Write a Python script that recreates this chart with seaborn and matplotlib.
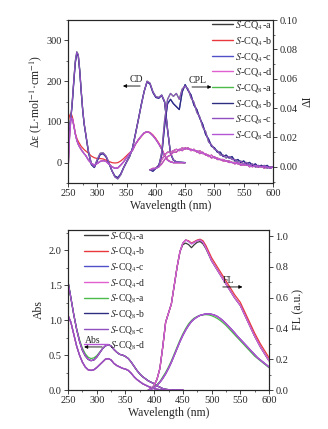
import numpy as np
import pandas as pd
import seaborn as sns
import matplotlib
matplotlib.use("Agg")
import matplotlib.pyplot as plt
from matplotlib.lines import Line2D
from matplotlib.ticker import AutoMinorLocator, FormatStrFormatter

# ---------------- data ----------------
series = ["S-CQ4-a", "S-CQ4-b", "S-CQ4-c", "S-CQ4-d", "S-CQ8-a", "S-CQ8-b", "S-CQ8-c", "S-CQ8-d"]
labels = [r"$\mathit{S}$-CQ$_{4}$-a", r"$\mathit{S}$-CQ$_{4}$-b", r"$\mathit{S}$-CQ$_{4}$-c",
          r"$\mathit{S}$-CQ$_{4}$-d", r"$\mathit{S}$-CQ$_{8}$-a", r"$\mathit{S}$-CQ$_{8}$-b",
          r"$\mathit{S}$-CQ$_{8}$-c", r"$\mathit{S}$-CQ$_{8}$-d"]
colors = ["#3a3a3a", "#e8383d", "#5050c8", "#e060d0", "#4cbb4c", "#2e2e80", "#9050c0", "#b455d4"]

# CD (left axis, top panel)
wl_cd = [250, 252.5, 255, 257.5, 260, 262.5, 265, 267.5, 270, 272.5, 275, 277.5, 280, 282.5, 285,
         290, 295, 300, 305, 310, 315, 320, 325, 330, 335, 340, 345, 350, 355, 360, 365, 370, 375,
         380, 385, 390, 395, 400, 405, 410, 415, 420, 425, 430, 435, 440, 450]
cd_big1 = [70, 85, 110, 150, 200, 245, 268, 262, 225, 175, 130, 95, 72, 48, 25,
           -5, -12, 5, 20, 22, 14, -2, -20, -33, -37, -28, -12, 2, 15, 35, 70, 105, 142,
           175, 198, 193, 172, 160, 158, 165, 148, 80, 22, 6, 2, 1, 0]
cd_big2 = [75, 88, 112, 155, 205, 250, 272, 265, 228, 178, 132, 97, 74, 50, 27,
           -3, -10, 8, 23, 24, 16, 0, -20, -35, -40, -30, -13, 1, 14, 34, 68, 104, 140,
           174, 200, 195, 174, 162, 160, 166, 150, 82, 24, 7, 2, 1, 0]
cd_small1 = [95, 115, 122, 112, 92, 72, 60, 52, 46, 40, 36, 32, 29, 26, 23,
             16, 12, 10, 10, 9, 6, 3, 0, -1, 0, 4, 10, 17, 24, 30, 45, 55, 64,
             72, 76, 74, 68, 59, 48, 35, 18, 7, 2, 0, 0, 0, 0]
cd_small2 = [-25, 60, 110, 108, 90, 70, 55, 45, 38, 32, 27, 22, 18, 12, 6,
             -2, -6, -2, 3, 5, 3, -4, -10, -14, -13, -6, 2, 12, 22, 30, 45, 56, 65,
             73, 76, 73, 66, 57, 46, 33, 17, 6, 2, 0, 0, 0, 0]

# CPL (right axis, top panel)
wl_cpl = [390, 395, 400, 405, 410, 415, 420, 425, 430, 435, 440, 445, 450, 455, 460, 465, 470,
          475, 480, 485, 490, 495, 500, 505, 510, 515, 520, 525, 530, 535, 540, 545, 550, 555,
          560, 565, 570, 575, 580, 585, 590, 595, 600]
cpl_big1 = [-0.002, -0.003, -0.001, 0.001, 0.008, 0.028, 0.043, 0.046, 0.043, 0.041, 0.039, 0.051,
            0.056, 0.052, 0.049, 0.042, 0.039, 0.033, 0.029, 0.022, 0.019, 0.014, 0.013, 0.010,
            0.010, 0.007, 0.008, 0.006, 0.007, 0.004, 0.005, 0.003, 0.004, 0.002, 0.003, 0.001,
            0.002, 0.000, 0.001, 0.000, 0.001, -0.001, 0.000]
cpl_big2 = [-0.002, -0.002, -0.001, 0.000, 0.010, 0.032, 0.046, 0.050, 0.048, 0.050, 0.046, 0.053,
            0.055, 0.053, 0.047, 0.044, 0.037, 0.034, 0.027, 0.024, 0.017, 0.015, 0.012, 0.011,
            0.008, 0.008, 0.006, 0.007, 0.005, 0.005, 0.003, 0.004, 0.002, 0.003, 0.001, 0.002,
            0.000, 0.001, 0.000, 0.001, -0.001, 0.000, 0.000]
cpl_small1 = [-0.002, -0.002, -0.001, 0.001, 0.005, 0.008, 0.010, 0.010, 0.011, 0.012, 0.011,
              0.013, 0.012, 0.013, 0.011, 0.012, 0.010, 0.011, 0.009, 0.009, 0.007, 0.008, 0.006,
              0.006, 0.005, 0.005, 0.004, 0.004, 0.003, 0.003, 0.002, 0.002, 0.001, 0.002, 0.000,
              0.001, 0.000, 0.000, 0.001, -0.001, 0.000, 0.000, 0.000]
cpl_small2 = [-0.002, -0.001, -0.001, 0.000, 0.002, 0.005, 0.007, 0.008, 0.010, 0.010, 0.012,
              0.011, 0.013, 0.012, 0.012, 0.011, 0.011, 0.009, 0.010, 0.008, 0.008, 0.006, 0.007,
              0.005, 0.005, 0.004, 0.004, 0.003, 0.003, 0.002, 0.003, 0.001, 0.002, 0.001, 0.001,
              0.000, 0.001, 0.000, 0.000, 0.000, 0.000, -0.001, 0.000]

# Abs (left axis, bottom panel)
wl_abs = [250, 255, 260, 265, 270, 275, 280, 285, 290, 295, 300, 305, 310, 315, 320, 325, 330,
          335, 340, 345, 350, 355, 360, 365, 370, 375, 380, 385, 390, 395, 400, 405, 410, 415,
          420, 425, 430, 435, 440, 445, 450]
abs_big = [1.55, 1.32, 1.08, 0.87, 0.70, 0.57, 0.49, 0.44, 0.42, 0.43, 0.47, 0.53, 0.59, 0.63,
           0.65, 0.63, 0.58, 0.54, 0.51, 0.50, 0.48, 0.45, 0.40, 0.34, 0.28, 0.23, 0.19, 0.16,
           0.13, 0.11, 0.09, 0.06, 0.04, 0.02, 0.01, 0.005, 0, 0, 0, 0, 0]
abs_big_g = [1.55, 1.32, 1.08, 0.88, 0.72, 0.60, 0.52, 0.47, 0.45, 0.46, 0.49, 0.54, 0.59, 0.63,
             0.65, 0.63, 0.58, 0.54, 0.51, 0.50, 0.48, 0.45, 0.40, 0.34, 0.28, 0.23, 0.19, 0.16,
             0.13, 0.11, 0.09, 0.06, 0.04, 0.02, 0.01, 0.005, 0, 0, 0, 0, 0]
abs_small = [1.07, 0.97, 0.80, 0.63, 0.50, 0.40, 0.33, 0.29, 0.28, 0.29, 0.32, 0.36, 0.40, 0.44,
             0.45, 0.43, 0.38, 0.35, 0.33, 0.31, 0.30, 0.28, 0.24, 0.19, 0.15, 0.12, 0.09, 0.07,
             0.05, 0.035, 0.02, 0.01, 0.005, 0, 0, 0, 0, 0, 0, 0, 0]

# FL (right axis, bottom panel)
wl_fl = wl_cpl
fl_big = [0.0, 0.01, 0.03, 0.07, 0.14, 0.28, 0.44, 0.50, 0.56, 0.68, 0.80, 0.90, 0.955, 0.975,
          0.965, 0.95, 0.96, 0.97, 0.975, 0.96, 0.925, 0.885, 0.84, 0.81, 0.78, 0.75, 0.72, 0.69,
          0.66, 0.63, 0.60, 0.575, 0.55, 0.51, 0.47, 0.43, 0.39, 0.35, 0.315, 0.28, 0.25, 0.22, 0.19]
fl_big_k = [0.0, 0.01, 0.03, 0.07, 0.14, 0.28, 0.44, 0.50, 0.56, 0.68, 0.80, 0.90, 0.945, 0.955,
            0.945, 0.925, 0.945, 0.96, 0.965, 0.95, 0.92, 0.88, 0.84, 0.81, 0.78, 0.75, 0.72, 0.69,
            0.66, 0.63, 0.60, 0.575, 0.55, 0.51, 0.47, 0.43, 0.39, 0.35, 0.315, 0.28, 0.25, 0.22, 0.19]
fl_big_r = [0.0, 0.01, 0.03, 0.07, 0.14, 0.28, 0.44, 0.50, 0.56, 0.68, 0.80, 0.90, 0.955, 0.975,
            0.97, 0.955, 0.965, 0.975, 0.98, 0.97, 0.94, 0.90, 0.86, 0.83, 0.80, 0.77, 0.74, 0.71,
            0.68, 0.65, 0.62, 0.595, 0.57, 0.53, 0.49, 0.45, 0.41, 0.37, 0.335, 0.30, 0.27, 0.24, 0.21]
fl_small = [0.0, 0.005, 0.015, 0.03, 0.05, 0.075, 0.105, 0.14, 0.18, 0.225, 0.27, 0.315, 0.355,
            0.39, 0.42, 0.445, 0.462, 0.475, 0.485, 0.49, 0.495, 0.495, 0.492, 0.487, 0.478,
            0.465, 0.45, 0.432, 0.413, 0.393, 0.372, 0.35, 0.33, 0.31, 0.29, 0.27, 0.25, 0.23,
            0.21, 0.195, 0.18, 0.165, 0.15]
fl_small_g = [0.0, 0.005, 0.02, 0.035, 0.055, 0.085, 0.115, 0.15, 0.19, 0.235, 0.28, 0.325, 0.365,
              0.40, 0.43, 0.452, 0.468, 0.478, 0.485, 0.488, 0.49, 0.488, 0.483, 0.475, 0.465,
              0.452, 0.437, 0.42, 0.40, 0.38, 0.36, 0.34, 0.32, 0.30, 0.28, 0.26, 0.24, 0.22,
              0.205, 0.19, 0.175, 0.16, 0.145]

cd_map = {"S-CQ4-a": cd_small2, "S-CQ4-b": cd_small1, "S-CQ4-c": cd_big1, "S-CQ4-d": cd_small2,
          "S-CQ8-a": cd_big2, "S-CQ8-b": cd_big1, "S-CQ8-c": cd_big2, "S-CQ8-d": cd_small2}
cpl_map = {"S-CQ4-a": cpl_small1, "S-CQ4-b": cpl_small2, "S-CQ4-c": cpl_big1, "S-CQ4-d": cpl_small1,
           "S-CQ8-a": cpl_big2, "S-CQ8-b": cpl_big1, "S-CQ8-c": cpl_big2, "S-CQ8-d": cpl_small2}
abs_map = {"S-CQ4-a": abs_big, "S-CQ4-b": abs_small, "S-CQ4-c": abs_small, "S-CQ4-d": abs_small,
           "S-CQ8-a": abs_big_g, "S-CQ8-b": abs_big, "S-CQ8-c": abs_small, "S-CQ8-d": abs_big}
fl_map = {"S-CQ4-a": fl_big_k, "S-CQ4-b": fl_big_r, "S-CQ4-c": fl_big, "S-CQ4-d": fl_big,
          "S-CQ8-a": fl_small_g, "S-CQ8-b": fl_small, "S-CQ8-c": fl_small, "S-CQ8-d": fl_small}

# ---------------- style ----------------
sns.set_style("ticks")
plt.rcParams["font.family"] = ["Liberation Serif", "DejaVu Serif"]
plt.rcParams["mathtext.fontset"] = "stix"
plt.rcParams["axes.linewidth"] = 0.8
plt.rcParams["xtick.direction"] = "out"
plt.rcParams["ytick.direction"] = "out"

fig = plt.figure(figsize=(3.28, 4.29), dpi=100)
fig.patch.set_facecolor("white")

ax1 = fig.add_axes([68/328, 1-183/429, 205/328, 163/429])
ax1r = ax1.twinx()
ax2 = fig.add_axes([68/328, 1-390/429, 201/328, 160/429])
ax2r = ax2.twinx()

lw = 0.9
for name, col in zip(series, colors):
    sns.lineplot(x=wl_cd, y=cd_map[name], ax=ax1, color=col, lw=lw, sort=False)
    sns.lineplot(x=wl_cpl, y=cpl_map[name], ax=ax1r, color=col, lw=lw, sort=False)
    sns.lineplot(x=wl_abs, y=abs_map[name], ax=ax2, color=col, lw=lw, sort=False)
    sns.lineplot(x=wl_fl, y=fl_map[name], ax=ax2r, color=col, lw=lw, sort=False)

tick_fs = 7.5
lab_fs = 8.5

# top panel axes
ax1.set_xlim(250, 600)
ax1.set_ylim(-50, 350)
ax1r.set_ylim(-0.011, 0.10)
ax1.set_xticks([250, 300, 350, 400, 450, 500, 550, 600])
ax1.set_yticks([0, 100, 200, 300])
ax1r.set_yticks([0.00, 0.02, 0.04, 0.06, 0.08, 0.10])
ax1r.yaxis.set_major_formatter(FormatStrFormatter("%.2f"))
ax1.set_xlabel("Wavelength (nm)", fontsize=lab_fs, labelpad=1)
ax1.set_ylabel(r"Δε (L·mol$^{-1}$·cm$^{-1}$)", fontsize=lab_fs, labelpad=2)
ax1r.set_ylabel("ΔI", fontsize=lab_fs, labelpad=3)

# bottom panel axes
ax2.set_xlim(250, 600)
ax2.set_ylim(0, 2.29)
ax2r.set_ylim(0, 1.04)
ax2.set_xticks([250, 300, 350, 400, 450, 500, 550, 600])
ax2.set_yticks([0.0, 0.5, 1.0, 1.5, 2.0])
ax2.yaxis.set_major_formatter(FormatStrFormatter("%.1f"))
ax2r.set_yticks([0.0, 0.2, 0.4, 0.6, 0.8, 1.0])
ax2r.yaxis.set_major_formatter(FormatStrFormatter("%.1f"))
ax2.set_xlabel("Wavelength (nm)", fontsize=lab_fs, labelpad=1)
ax2.set_ylabel("Abs", fontsize=lab_fs, labelpad=3)
ax2r.set_ylabel("FL (a.u.)", fontsize=lab_fs, labelpad=3)

for a in (ax1, ax1r, ax2, ax2r):
    a.tick_params(which="major", length=3, width=0.6, labelsize=tick_fs, pad=1.5)
    a.tick_params(which="minor", length=1.6, width=0.5)
    a.yaxis.set_minor_locator(AutoMinorLocator(2))
    for s in a.spines.values():
        s.set_visible(True)
        s.set_linewidth(0.8)
for a in (ax1, ax2):
    a.xaxis.set_minor_locator(AutoMinorLocator(2))

# legends
handles = [Line2D([], [], color=c, lw=1.0) for c in colors]
ax1r.legend(handles, labels, loc="upper right", bbox_to_anchor=(1.02, 1.03), frameon=False,
            fontsize=7.4, handlelength=2.0, handletextpad=0.25, labelspacing=0.36, borderaxespad=0)
ax2r.legend(handles, labels, loc="upper left", bbox_to_anchor=(0.06, 1.025), frameon=False,
            fontsize=6.9, handlelength=2.5, handletextpad=0.25, labelspacing=0.38, borderaxespad=0)

# annotations
arrow = dict(arrowstyle="-|>", lw=0.6, color="black", mutation_scale=5, shrinkA=0, shrinkB=0)
ax1r.annotate("", xy=(0.268, 0.595), xytext=(0.352, 0.595), xycoords="axes fraction", arrowprops=arrow)
ax1r.text(0.333, 0.608, "CD", transform=ax1r.transAxes, fontsize=7, ha="center", va="bottom")
ax1r.annotate("", xy=(0.700, 0.589), xytext=(0.605, 0.589), xycoords="axes fraction", arrowprops=arrow)
ax1r.text(0.630, 0.600, "CPL", transform=ax1r.transAxes, fontsize=7, ha="center", va="bottom")
ax2r.annotate("", xy=(0.080, 0.269), xytext=(0.170, 0.269), xycoords="axes fraction", arrowprops=arrow)
ax2r.text(0.125, 0.282, "Abs", transform=ax2r.transAxes, fontsize=7, ha="center", va="bottom")
ax2r.annotate("", xy=(0.868, 0.644), xytext=(0.770, 0.644), xycoords="axes fraction", arrowprops=arrow)
ax2r.text(0.800, 0.657, "FL", transform=ax2r.transAxes, fontsize=7, ha="center", va="bottom")

fig.savefig("out.png", dpi=100, facecolor="white")
